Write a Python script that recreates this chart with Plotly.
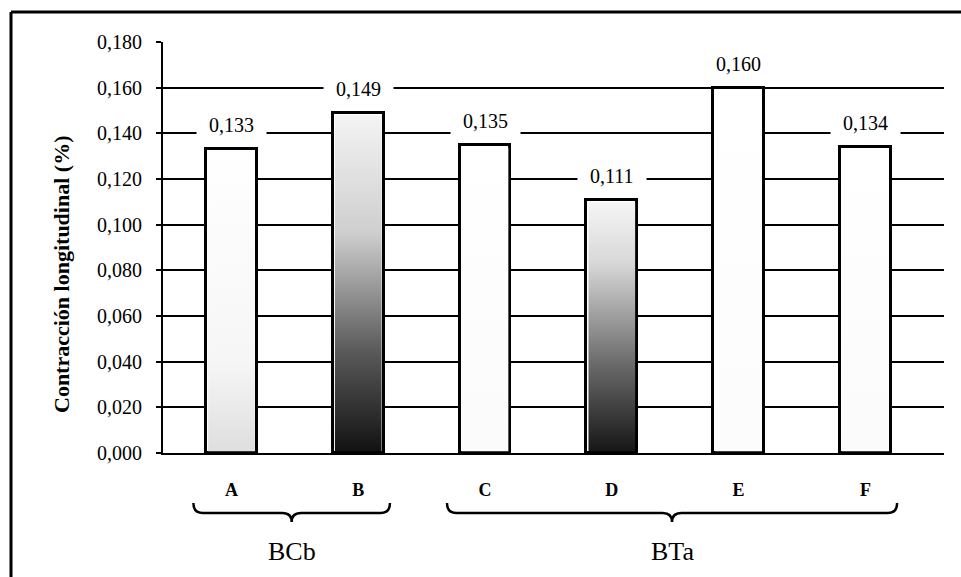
import plotly.graph_objects as go

categories = ["A", "B", "C", "D", "E", "F"]
values = [0.133, 0.149, 0.135, 0.111, 0.160, 0.134]
value_labels = ["0,133", "0,149", "0,135", "0,111", "0,160", "0,134"]
groups = ["BCb", "BCb", "BTa", "BTa", "BTa", "BTa"]
group_names = ["BCb", "BTa"]
y_ticks = [0.0, 0.02, 0.04, 0.06, 0.08, 0.10, 0.12, 0.14, 0.16, 0.18]
y_tick_labels = ["0,000", "0,020", "0,040", "0,060", "0,080", "0,100", "0,120", "0,140", "0,160", "0,180"]
# gradient shading per bar (bottom -> top)
gradients = [
    [[0, "#dedede"], [0.3, "#f6f6f6"], [1, "#ffffff"]],
    [[0, "#111111"], [0.3, "#5a5a5a"], [0.65, "#cfcfcf"], [1, "#f4f4f4"]],
    [[0, "#fbfbfb"], [1, "#ffffff"]],
    [[0, "#151515"], [0.35, "#6a6a6a"], [0.75, "#d8d8d8"], [1, "#f6f6f6"]],
    [[0, "#fcfcfc"], [1, "#ffffff"]],
    [[0, "#fbfbfb"], [1, "#ffffff"]],
]

SERIF = "Liberation Serif"
W, H = 961, 577
L, R, T, B = 163, 17, 42, 124
PW, PH = W - L - R, H - T - B
BAR_W = 0.4
XR = [-0.54, 5.62]

def px_to_py(y):
    return (H - B - y) / PH

def px_to_px(x):
    return (x - L) / PW

xs = list(range(len(categories)))
fig = go.Figure()

fig.add_trace(go.Bar(
    x=xs, y=values, width=BAR_W,
    marker=dict(color="white", line=dict(color="black", width=3)),
    showlegend=False, hoverinfo="skip",
))

# gradient overlays inside the bars
inset = 0.016
for i, v in enumerate(values):
    x0, x1 = i - BAR_W / 2 + inset, i + BAR_W / 2 - inset
    fig.add_trace(go.Scatter(
        x=[x0, x0, x1, x1, x0], y=[0.0008, v - 0.0012, v - 0.0012, 0.0008, 0.0008],
        mode="lines", line=dict(width=0), fill="toself",
        fillgradient=dict(type="vertical", colorscale=gradients[i], start=0, stop=v),
        showlegend=False, hoverinfo="skip",
    ))

# value labels with white background
for i, (v, t) in enumerate(zip(values, value_labels)):
    fig.add_annotation(x=i, y=v, text=f"&nbsp;&nbsp;{t}&nbsp;&nbsp;", showarrow=False,
                       yshift=24, xanchor="center", yanchor="middle",
                       bgcolor="white", borderpad=2, xref="x", yref="y",
                       font=dict(family=SERIF, size=20, color="black"))

# braces and group labels
def x_to_paper(xv):
    return (xv - XR[0]) / (XR[1] - XR[0])

y_end = px_to_py(503)
y_mid = px_to_py(513)
y_tip = px_to_py(522)
for g in group_names:
    idx = [i for i, gg in enumerate(groups) if gg == g]
    a = x_to_paper(min(idx) - 0.3)
    b = x_to_paper(max(idx) + 0.25)
    m = (a + b) / 2
    c = 0.012
    path = (f"M {a},{y_end} Q {a},{y_mid} {a+c},{y_mid} L {m-c},{y_mid} "
            f"Q {m},{y_mid} {m},{y_tip} Q {m},{y_mid} {m+c},{y_mid} "
            f"L {b-c},{y_mid} Q {b},{y_mid} {b},{y_end}")
    fig.add_shape(type="path", path=path, xref="paper", yref="paper",
                  line=dict(color="black", width=2.5))
    fig.add_annotation(x=m, y=px_to_py(551), xref="paper", yref="paper",
                       text=g, showarrow=False, xanchor="center", yanchor="middle",
                       font=dict(family=SERIF, size=26, color="black"))

# y-axis title
fig.add_annotation(x=px_to_px(61), y=px_to_py(275), xref="paper", yref="paper",
                   text="<b>Contracción longitudinal (%)</b>", textangle=-90,
                   showarrow=False, xanchor="center", yanchor="middle",
                   font=dict(family=SERIF, size=22, color="black"))

# outer frame (left and top edges)
fig.add_shape(type="line", xref="paper", yref="paper",
              x0=px_to_px(11), x1=px_to_px(11), y0=px_to_py(12), y1=px_to_py(H + 5),
              line=dict(color="black", width=3))
fig.add_shape(type="line", xref="paper", yref="paper",
              x0=px_to_px(11), x1=px_to_px(W + 5), y0=px_to_py(12), y1=px_to_py(12),
              line=dict(color="black", width=3))

fig.update_layout(
    width=W, height=H,
    margin=dict(l=L, r=R, t=T, b=B),
    paper_bgcolor="white", plot_bgcolor="white",
    bargap=0,
    font=dict(family=SERIF, color="black"),
    xaxis=dict(range=XR, tickvals=xs, ticktext=[f"<b>{c}</b>" for c in categories],
               showgrid=False, zeroline=False, showline=True, linecolor="black",
               linewidth=2, ticks="", ticklabelstandoff=19,
               tickfont=dict(family=SERIF, size=18, color="black")),
    yaxis=dict(range=[0, 0.18], tickvals=y_ticks, ticktext=y_tick_labels,
               showgrid=True, gridcolor="black", gridwidth=2, zeroline=False,
               showline=True, linecolor="black", linewidth=2,
               ticks="outside", ticklen=5, tickwidth=2, tickcolor="black",
               ticklabelstandoff=10,
               tickfont=dict(family=SERIF, size=20, color="black")),
)

fig.write_html("out.html")
